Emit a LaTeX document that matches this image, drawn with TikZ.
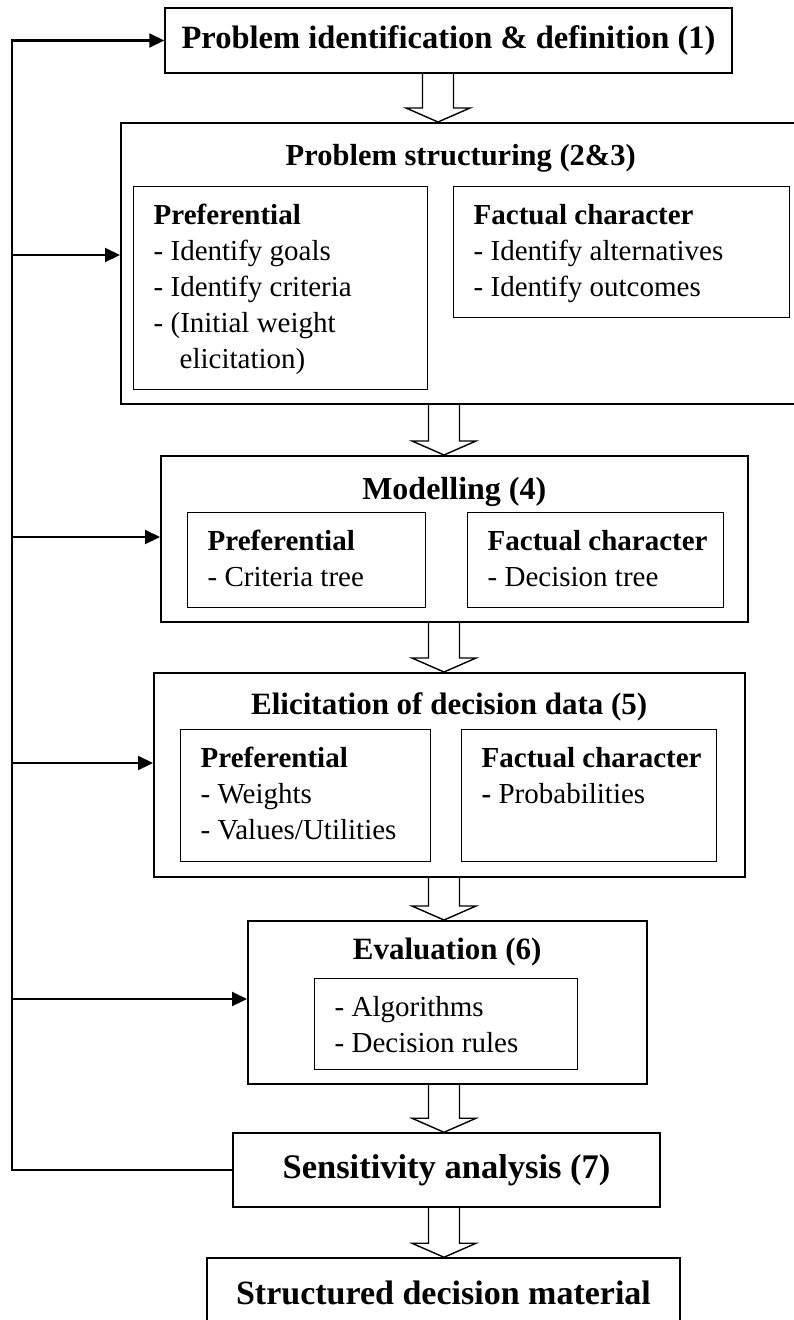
\documentclass[tikz,border=0pt]{standalone}
\usepackage{fontspec}
\setmainfont{Liberation Serif}
\usetikzlibrary{calc,positioning,arrows.meta}

\tikzset{
  stage/.style={draw,line width=1.5pt,inner sep=0pt},
  stagetl/.style={stage,anchor=north west},
  subbox/.style={draw,line width=1.4pt,inner sep=0pt,anchor=north west},
  heading/.style={inner sep=0pt,font=\fontsize{#1}{36}\selectfont\bfseries},
  heading/.default=31,
  feedback/.style={line width=2.2pt,-{Triangle[length=15pt,width=14pt]}},
  bigarrow/.style={line width=1.4pt,line join=miter}
}
\newcommand{\cellbox}[3]{\parbox[c][#2][t]{#1}{\vspace*{13pt}\hspace*{20pt}\begin{tabular}[t]{@{}l@{}}#3\end{tabular}}}
\newcommand{\stagearrow}[3]{%
  \coordinate (mid) at (#3,0);
  \draw[bigarrow] ($(mid |- #1.south)+(-15.5,0)$) -- ($(mid |- #2.north)+(-15.5,-14)$) -- ++(-16.5,0)
    -- (mid |- #2.north) -- ++(32,-14) -- ++(-16.5,0) -- ($(mid |- #1.south)+(15.5,0)$);}

\begin{document}
\begin{tikzpicture}[x=1pt,y=-1pt,font=\fontsize{29}{36}\selectfont]
\path[use as bounding box,clip] (0,0) rectangle (794,1320);

\node[stage,heading=32.5,minimum width=567pt,minimum height=65pt] (ident) at (448.5,40.5) {Problem identification \& definition (1)};

\node[stagetl,minimum width=680pt,minimum height=281pt] (structuring) at (120,122) {};
\node[heading=30.5,below=22pt of structuring.north] (structuringtitle) {Problem structuring (2\&3)};
\node[subbox] (prefstruct) at (133,186) {\cellbox{294pt}{203pt}{\textbf{Preferential}\\- Identify goals\\- Identify criteria\\- (Initial weight\\\hspace*{26pt}elicitation)}};
\node[subbox] (factstruct) at (453,186) {\cellbox{336pt}{131pt}{\textbf{Factual character}\\- Identify alternatives\\- Identify outcomes}};

\node[stagetl,minimum width=587pt,minimum height=166pt] (model) at (160,455) {};
\node[heading=32,below=22pt of model.north] (modeltitle) {Modelling (4)};
\node[subbox] (prefmodel) at (187,512) {\cellbox{238pt}{95pt}{\textbf{Preferential}\\- Criteria tree}};
\node[subbox] (factmodel) at (467,512) {\cellbox{256pt}{95pt}{\textbf{Factual character}\\- Decision tree}};

\node[stagetl,minimum width=591pt,minimum height=204pt] (elic) at (153,672) {};
\node[heading=31,below=20pt of elic.north] (elictitle) {Elicitation of decision data (5)};
\node[subbox] (prefelic) at (180,729) {\cellbox{250pt}{132pt}{\textbf{Preferential}\\- Weights\\- Values/Utilities}};
\node[subbox] (factelic) at (461,729) {\cellbox{255pt}{132pt}{\textbf{Factual character}\\\textbf{-} Probabilities}};

\node[stagetl,minimum width=399pt,minimum height=163pt] (eval) at (247,920) {};
\node[heading=31,below=18pt of eval.north] (evaltitle) {Evaluation (6)};
\node[subbox] (algo) at (314,978) {\cellbox{263pt}{91pt}{- Algorithms\\- Decision rules}};

\node[stage,heading=34.5,minimum width=427pt,minimum height=74pt] (sens) at (446.5,1170) {Sensitivity analysis (7)};
\node[stage,heading=34,minimum width=473pt,minimum height=70pt] (material) at (443.5,1293) {Structured decision material};

\stagearrow{ident}{structuring}{438}
\stagearrow{structuring}{model}{444}
\stagearrow{model}{elic}{444}
\stagearrow{elic}{eval}{444}
\stagearrow{eval}{sens}{444}
\stagearrow{sens}{material}{444}

\coordinate (railtop) at (12,40.5);
\draw[feedback] (sens.west) -- (sens.west -| railtop) -- (railtop) -- (ident.west);
\foreach \y/\n in {255/structuring,537/model,763/elic,999/eval}{
  \coordinate (tap) at (12,\y);
  \draw[feedback] (tap) -- (tap -| \n.west);
}
\end{tikzpicture}
\end{document}
